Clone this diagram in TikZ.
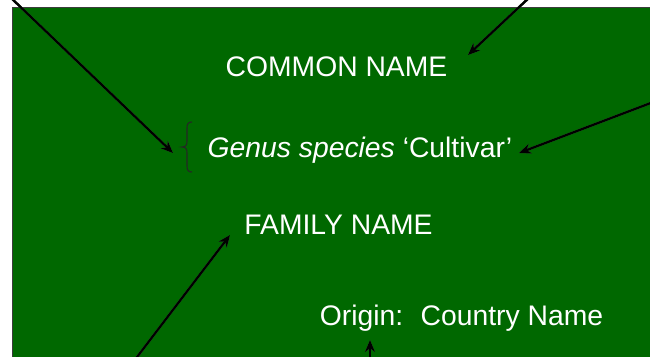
\documentclass[tikz,border=0pt]{standalone}
\usepackage{fontspec}
\setmainfont{Liberation Sans}
\usetikzlibrary{arrows.meta}
\definecolor{bggreen}{RGB}{0,104,0}
\definecolor{shadowc}{RGB}{70,110,70}
\definecolor{framec}{RGB}{60,60,60}
\tikzset{
  lbl/.style={text=white, inner sep=0pt, anchor=base, font=\fontsize{28.3}{31}\selectfont},
  pointer/.style={line width=2.3pt, black, -{Stealth[length=12pt,width=10pt]}},
  pshadow/.style={line width=2.3pt, shadowc, -{Stealth[length=12pt,width=10pt]}, shift={(1.4,1.4)}}
}
\begin{document}
\begin{tikzpicture}[x=1pt,y=-1pt]
\useasboundingbox (0,0) rectangle (650,356);
\clip (0,0) rectangle (650,356);
\fill[white] (0,0) rectangle (650,356);
\draw[framec, fill=bggreen, line width=1pt] (12,7.5) rectangle (660,366);

\node[lbl] (common) at (336.5,76.5) {COMMON NAME};
\node[lbl] (genus) at (360,157) {\textit{Genus species} ‘Cultivar’};
\node[lbl] (family) at (338.5,234) {FAMILY NAME};
\node[lbl] (origin) at (461.5,325) {Origin:\hspace{0.25em} Country Name};

% brace
\draw[line width=1.1pt, black!85] (192,122) .. controls (188,122) and (187,124) .. (187,128)
  -- (187,141) .. controls (187,145) and (186,147) .. (182,147)
  .. controls (186,147) and (187,149) .. (187,153) -- (187,166)
  .. controls (187,170) and (188,172) .. (192,172);

% free ends and tips
\coordinate (s1) at (8,-5);     \coordinate (t1) at (173,153);
\coordinate (s2) at (532,-5);   \coordinate (t2) at (468,55);
\coordinate (s3) at (656,101);  \coordinate (t3) at (519,153);
\coordinate (s4) at (134,361);  \coordinate (t4) at (230,235);
\coordinate (s5) at (370,362);  \coordinate (t5) at (370,340);

\foreach \i in {1,...,5} {
  \draw[pshadow] (s\i) -- (t\i);
}
\foreach \i in {1,...,5} {
  \draw[pointer] (s\i) -- (t\i);
}
\end{tikzpicture}
\end{document}
